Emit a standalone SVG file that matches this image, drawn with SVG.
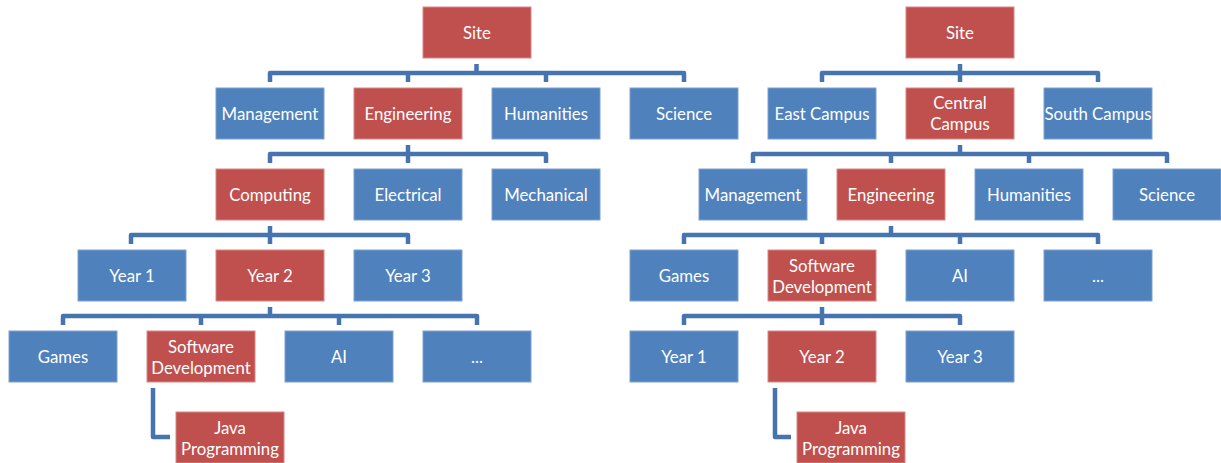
<svg xmlns="http://www.w3.org/2000/svg" width="1221" height="463" viewBox="0 0 1221 463">
<style>
.b rect{fill:#4F81BD;stroke:#7DA2CF;stroke-width:1}
.r rect{fill:#C0504D;stroke:#D78785;stroke-width:1}
text{font-family:Lato,"Liberation Sans",sans-serif;font-size:16.8px;fill:#fff;text-anchor:middle;dominant-baseline:central}
#connectors path{fill:none;stroke:#4674AE;stroke-width:4.5;stroke-linejoin:round;stroke-linecap:butt}
</style>
<rect width="1221" height="463" fill="#fff"/>
<g id="connectors">
<path d="M476.5 64V73M270 82V73H684V82M408 73V82M546 73V82"/>
<path d="M408 145V154M270 163V154H546V163M408 154V163"/>
<path d="M270 226V235M131 244V235H408V244M270 235V244"/>
<path d="M270 307V316M63 325V316H477V325M201 316V325M339 316V325"/>
<path d="M153 388V437H170"/>
<path d="M960 64V73M822 82V73H1098V82M960 73V82"/>
<path d="M960 145V154M753 163V154H1167V163M891 154V163M1029 154V163"/>
<path d="M891 226V235M684 244V235H1098V244M822 235V244M960 235V244"/>
<path d="M822 307V316M684 325V316H960V325M822 316V325"/>
<path d="M775 388V437H791"/>
</g>
<g id="l-site" class="r"><rect x="423" y="7" width="108" height="51"/><text x="477" y="32">Site</text></g>
<g id="l-management" class="b"><rect x="216" y="88" width="108" height="51"/><text x="270" y="113">Management</text></g>
<g id="l-engineering" class="r"><rect x="354" y="88" width="108" height="51"/><text x="408" y="113">Engineering</text></g>
<g id="l-humanities" class="b"><rect x="492" y="88" width="108" height="51"/><text x="546" y="113">Humanities</text></g>
<g id="l-science" class="b"><rect x="630" y="88" width="108" height="51"/><text x="684" y="113">Science</text></g>
<g id="l-computing" class="r"><rect x="216" y="169" width="108" height="51"/><text x="270" y="194">Computing</text></g>
<g id="l-electrical" class="b"><rect x="354" y="169" width="108" height="51"/><text x="408" y="194">Electrical</text></g>
<g id="l-mechanical" class="b"><rect x="492" y="169" width="108" height="51"/><text x="546" y="194">Mechanical</text></g>
<g id="l-year1" class="b"><rect x="78" y="250" width="108" height="51"/><text x="132" y="275">Year 1</text></g>
<g id="l-year2" class="r"><rect x="216" y="250" width="108" height="51"/><text x="270" y="275">Year 2</text></g>
<g id="l-year3" class="b"><rect x="354" y="250" width="108" height="51"/><text x="408" y="275">Year 3</text></g>
<g id="l-games" class="b"><rect x="9" y="331" width="108" height="51"/><text x="63" y="356">Games</text></g>
<g id="l-softdev" class="r"><rect x="147" y="331" width="108" height="51"/><text x="201" y="346">Software</text><text x="201" y="367">Development</text></g>
<g id="l-ai" class="b"><rect x="285" y="331" width="108" height="51"/><text x="339" y="356">AI</text></g>
<g id="l-more" class="b"><rect x="423" y="331" width="108" height="51"/><text x="477" y="356">...</text></g>
<g id="l-java" class="r"><rect x="176" y="412" width="108" height="51"/><text x="230" y="427.5">Java</text><text x="230" y="448.5">Programming</text></g>
<g id="r-site" class="r"><rect x="906" y="7" width="108" height="51"/><text x="960" y="32">Site</text></g>
<g id="r-east" class="b"><rect x="768" y="88" width="108" height="51"/><text x="822" y="113">East Campus</text></g>
<g id="r-central" class="r"><rect x="906" y="88" width="108" height="51"/><text x="960" y="102.5">Central</text><text x="960" y="123.5">Campus</text></g>
<g id="r-south" class="b"><rect x="1044" y="88" width="108" height="51"/><text x="1098" y="113">South Campus</text></g>
<g id="r-management" class="b"><rect x="699" y="169" width="108" height="51"/><text x="753" y="194">Management</text></g>
<g id="r-engineering" class="r"><rect x="837" y="169" width="108" height="51"/><text x="891" y="194">Engineering</text></g>
<g id="r-humanities" class="b"><rect x="975" y="169" width="108" height="51"/><text x="1029" y="194">Humanities</text></g>
<g id="r-science" class="b"><rect x="1113" y="169" width="108" height="51"/><text x="1167" y="194">Science</text></g>
<g id="r-games" class="b"><rect x="630" y="250" width="108" height="51"/><text x="684" y="275">Games</text></g>
<g id="r-softdev" class="r"><rect x="768" y="250" width="108" height="51"/><text x="822" y="265">Software</text><text x="822" y="286">Development</text></g>
<g id="r-ai" class="b"><rect x="906" y="250" width="108" height="51"/><text x="960" y="275">AI</text></g>
<g id="r-more" class="b"><rect x="1044" y="250" width="108" height="51"/><text x="1098" y="275">...</text></g>
<g id="r-year1" class="b"><rect x="630" y="331" width="108" height="51"/><text x="684" y="356">Year 1</text></g>
<g id="r-year2" class="r"><rect x="768" y="331" width="108" height="51"/><text x="822" y="356">Year 2</text></g>
<g id="r-year3" class="b"><rect x="906" y="331" width="108" height="51"/><text x="960" y="356">Year 3</text></g>
<g id="r-java" class="r"><rect x="797" y="412" width="108" height="51"/><text x="851" y="427.5">Java</text><text x="851" y="448.5">Programming</text></g>
</svg>
